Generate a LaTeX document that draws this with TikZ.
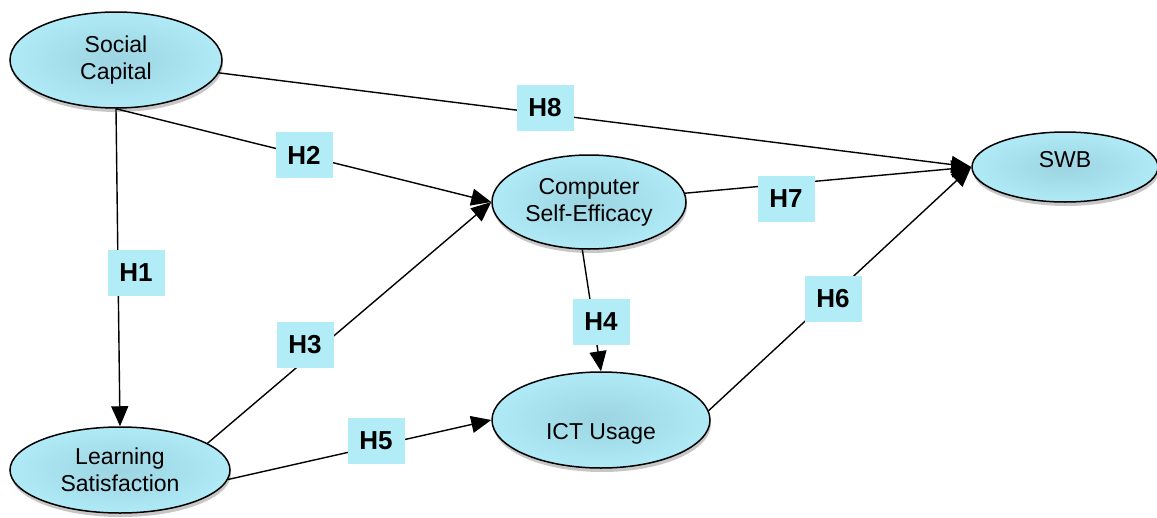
\documentclass[tikz,border=0pt]{standalone}
\usepackage{fontspec}
\setmainfont{Liberation Sans}
\usetikzlibrary{shapes.geometric,arrows.meta,shadows}
\definecolor{cyanfill}{RGB}{176,234,246}
\definecolor{cyaninner}{RGB}{156,212,226}
\definecolor{boxfill}{RGB}{178,236,247}
\tikzset{
  construct/.style={ellipse, draw=black, line width=1.5pt, inner sep=0pt,
    shading=radial, inner color=cyaninner, outer color=cyanfill,
    drop shadow={shadow xshift=1pt, shadow yshift=-4pt, opacity=0.22, fill=black},
    align=center, font=\fontsize{23}{27}\selectfont},
  hyp/.style={fill=boxfill, inner sep=0pt, minimum width=57pt, minimum height=46pt,
    font=\fontsize{26}{30}\selectfont\bfseries},
  path/.style={line width=1.4pt, -{Triangle[length=20pt,width=17pt]}}
}
\begin{document}
\begin{tikzpicture}[x=1pt,y=-1pt]
\useasboundingbox (0,0) rectangle (1157,517);
\node[construct, minimum width=212pt, minimum height=96pt] (sc) at (116,60) {Social\\Capital};
\node[construct, minimum width=194pt, minimum height=94pt] (cse) at (589,202) {Computer\\Self-Efficacy};
\node[construct, minimum width=186pt, minimum height=70pt, text height=8pt, text depth=8pt] (swb) at (1065,167) {SWB};
\node[construct, minimum width=220pt, minimum height=86pt] (ls) at (120,470) {Learning\\Satisfaction};
\node[construct, minimum width=218pt, minimum height=96pt, text height=38pt, text depth=0pt] (ict) at (601,420) {ICT Usage};

\draw[path] (sc.south) -- (ls.north);
\draw[path] (sc.south) -- (cse.west);
\draw[path] (sc) -- (swb.west);
\draw[path] (ls.17) -- (cse.west);
\draw[path] (ls.-5) -- (ict.west);
\draw[path] (cse.-98) -- (ict.north);
\draw[path] (cse) -- (swb.west);
\draw[path] (ict.5) -- (swb.west);

\node[hyp] (h1) at (136,273) {H1};
\node[hyp] (h2) at (304,155) {H2};
\node[hyp] (h3) at (305,345) {H3};
\node[hyp] (h4) at (601,322) {H4};
\node[hyp] (h5) at (376,441) {H5};
\node[hyp] (h6) at (833,299) {H6};
\node[hyp] (h7) at (786,199) {H7};
\node[hyp] (h8) at (545,108) {H8};
\end{tikzpicture}
\end{document}
